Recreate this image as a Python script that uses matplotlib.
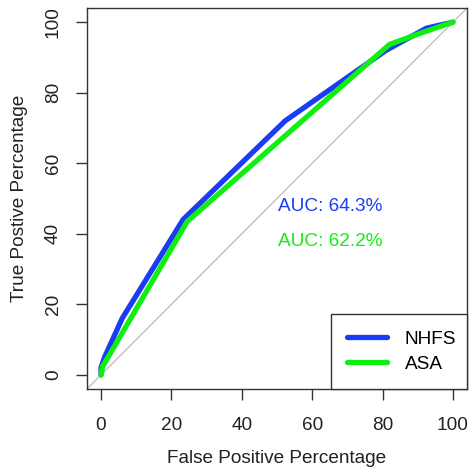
import matplotlib
matplotlib.use("Agg")
import matplotlib.pyplot as plt

plt.rcParams['font.family'] = ['Liberation Sans', 'DejaVu Sans']

# ROC curves (percentages)
nhfs_fpr = [0, 0, 1, 6, 23.3, 52.3, 81, 92.5, 100]
nhfs_tpr = [0, 2, 5, 16, 44, 72, 92, 98.3, 100]
asa_fpr = [0, 0.5, 2, 24.5, 82, 92, 100]
asa_tpr = [0, 2.5, 5, 43.5, 93.7, 97.3, 100]

auc_labels = ['AUC: 64.3%', 'AUC: 62.2%']
series_names = ['NHFS', 'ASA']
ticks = [0, 20, 40, 60, 80, 100]

blue = '#1a3cf5'
green = '#11ee11'
fs = 13.7

fig = plt.figure(figsize=(4.7, 4.73), dpi=100)
ax = fig.add_axes([0.185, 0.1776, 0.8086, 0.8054])

# chance diagonal, corner to corner
ax.plot([-4, 104], [-4, 104], color='#c0c0c0', lw=1, zorder=1)

ax.plot(nhfs_fpr, nhfs_tpr, color=blue, lw=3.8, label=series_names[0],
        solid_capstyle='round', solid_joinstyle='round', zorder=2)
ax.plot(asa_fpr, asa_tpr, color=green, lw=3.8, label=series_names[1],
        solid_capstyle='round', solid_joinstyle='round', zorder=3)

ax.text(65, 47.7, auc_labels[0], color=blue, fontsize=fs, ha='center', va='center')
ax.text(65, 37.8, auc_labels[1], color=green, fontsize=fs, ha='center', va='center')

ax.set_xlim(-4, 104)
ax.set_ylim(-4, 104)
ax.set_xticks(ticks)
ax.set_yticks(ticks)
ax.tick_params(axis='both', length=8, width=1, color='#333333', labelsize=fs,
               labelcolor='#222222')
ax.tick_params(axis='x', pad=12)
ax.tick_params(axis='y', pad=10)
for lab in ax.get_yticklabels():
    lab.set_rotation(90)
    lab.set_va('center')
for sp in ax.spines.values():
    sp.set_color('#333333')
    sp.set_linewidth(1)

ax.set_xlabel('False Positive Percentage', fontsize=fs, labelpad=12, color='#222222')
ax.set_ylabel('True Postive Percentage', fontsize=fs, labelpad=12, color='#222222')

leg = ax.legend(loc='lower right', bbox_to_anchor=(0.642, 0, 0.358, 0.194),
                mode='expand', fontsize=fs, frameon=True, fancybox=False,
                borderaxespad=0, handlelength=2.1, handletextpad=0.95,
                borderpad=0.84, labelspacing=0.42)
leg.get_frame().set_edgecolor('#333333')
leg.get_frame().set_linewidth(1)
leg.get_frame().set_alpha(1)

fig.savefig('out.png', dpi=100)
